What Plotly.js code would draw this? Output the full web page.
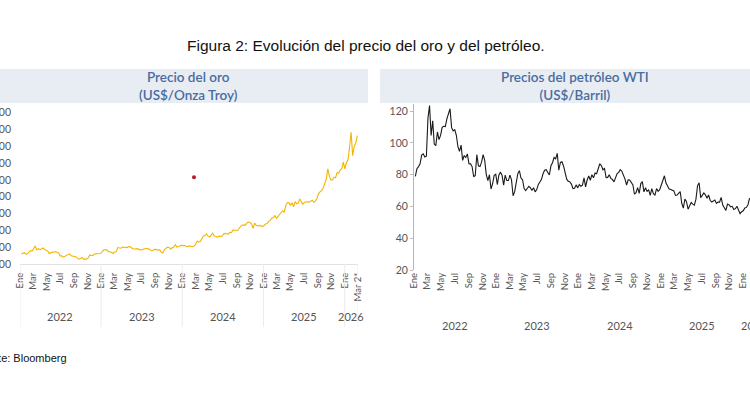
<!DOCTYPE html>
<html>
<head>
<meta charset="utf-8">
<script src="https://cdn.plot.ly/plotly-3.0.1.min.js"></script>
<style>
  html, body { margin: 0; padding: 0; background: #fff; }
  #plot { width: 750px; height: 410px; }
</style>
</head>
<body>
<div id="plot"></div>
<script>
// Gold price, US$/troy ounce, weekly (Fridays) from 2022-01-07
const goldPrice = [
  // 2022
  1797, 1817, 1835, 1791, 1807, 1859, 1898, 1889, 1966, 2040, 1921, 1958,
  1925, 1946, 1975, 1932, 1896, 1883, 1811, 1846, 1853, 1851, 1871, 1840, 1827,
  1742, 1742, 1703, 1727, 1766, 1775, 1802, 1747, 1737, 1712, 1716, 1675, 1644, 1660,
  1695, 1644, 1656, 1645, 1681, 1771, 1751, 1754, 1797, 1797, 1793, 1798, 1812,
  // 2023
  1865, 1920, 1926, 1928, 1865, 1865, 1842, 1811, 1855, 1867, 1989, 1978, 1969,
  2007, 2003, 1983, 1989, 2016, 2011, 1978, 1946, 1948, 1961, 1958, 1921, 1912,
  1925, 1955, 1962, 1959, 1943, 1913, 1889, 1915, 1940, 1919, 1924, 1925, 1848,
  1833, 1932, 1981, 2006, 1993, 1940, 1981, 2003, 2072, 2004, 2019, 2053, 2062,
  // 2024
  2045, 2049, 2029, 2018, 2039, 2024, 2013, 2035, 2083, 2179, 2155, 2165, 2230,
  2329, 2344, 2392, 2337, 2301, 2360, 2415, 2334, 2327, 2293, 2333, 2322, 2326,
  2392, 2411, 2400, 2387, 2443, 2431, 2507, 2512, 2503, 2497, 2578, 2622, 2658,
  2653, 2657, 2721, 2747, 2736, 2685, 2563, 2715, 2650, 2633, 2648, 2622, 2621,
  // 2025
  2640, 2690, 2703, 2771, 2798, 2861, 2883, 2936, 2858, 2910, 2984, 3023, 3085,
  3037, 3237, 3327, 3319, 3240, 3325, 3204, 3357, 3289, 3310, 3433, 3368, 3274,
  3337, 3355, 3350, 3337, 3363, 3398, 3336, 3371, 3448, 3586, 3643, 3685, 3760,
  3886, 4018, 4330, 4112, 4002, 4002, 4085, 4065, 4218, 4200, 4300, 4338, 4533,
  // 2026
  4330, 4510, 4600, 4980, 5420, 4720, 5000, 5100, 5320
];

// WTI crude, US$/barrel, weekly (Fridays) from 2022-01-07
const wtiPrice = [
  // 2022
  78.9, 83.8, 85.1, 86.8, 92.3, 93.1, 91.1, 91.6, 115.7, 123.5, 104.7, 113.9,
  99.3, 98.3, 106.9, 102.1, 104.7, 109.8, 110.5, 110.3, 115.1, 118.9, 121.5, 109.6, 107.6,
  108.4, 104.8, 97.6, 94.7, 98.6, 89.0, 92.1, 90.8, 93.1, 86.9, 86.8, 85.1, 78.7, 79.5,
  92.6, 85.6, 85.1, 87.9, 92.6, 89.0, 80.1, 76.3, 80.0, 71.0, 74.3, 79.6, 80.3,
  // 2023
  73.8, 79.9, 81.6, 79.7, 73.4, 79.7, 76.3, 76.3, 79.7, 76.7, 66.7, 69.3, 75.7,
  80.7, 82.5, 77.9, 76.8, 71.3, 70.0, 71.7, 72.7, 71.7, 70.2, 71.8, 69.2, 70.6,
  73.9, 75.4, 77.1, 80.6, 82.8, 83.2, 81.3, 79.8, 85.6, 87.5, 90.8, 90.0, 93.4,
  82.8, 87.7, 88.1, 85.5, 80.5, 77.2, 75.9, 75.5, 74.1, 71.2, 71.4, 73.6, 71.7,
  // 2024
  73.8, 72.7, 73.4, 78.0, 72.3, 76.8, 79.2, 76.5, 80.0, 78.0, 81.0, 80.6, 83.2,
  86.9, 85.7, 83.1, 83.9, 78.1, 78.3, 80.0, 77.7, 77.0, 75.5, 78.5, 80.7, 81.5,
  83.2, 82.2, 80.1, 77.2, 73.5, 76.8, 76.7, 74.8, 73.6, 67.7, 68.7, 71.9, 68.2,
  74.4, 75.6, 69.2, 71.8, 69.5, 70.4, 67.0, 71.2, 68.0, 67.2, 71.3, 69.5, 70.6,
  // 2025
  74.0, 76.6, 79.3, 74.7, 72.5, 71.0, 70.7, 70.4, 69.8, 67.0, 67.2, 68.3, 69.4,
  62.0, 59.0, 64.7, 63.0, 58.3, 61.0, 62.5, 61.5, 60.8, 64.6, 73.0, 74.9, 65.5,
  67.0, 68.5, 67.3, 65.2, 67.3, 63.9, 62.8, 63.7, 64.0, 61.9, 62.7, 62.7, 65.7,
  60.9, 58.9, 57.5, 61.5, 61.0, 59.8, 60.1, 58.1, 58.6, 60.1, 57.4, 55.5, 56.7,
  // 2026
  57.3, 59.1, 59.4, 61.1, 65.2
];

const monthNames = ["Ene", "Mar", "May", "Jul", "Sep", "Nov"];
const monthNums = ["01", "03", "05", "07", "09", "11"];
const years = [2022, 2023, 2024, 2025];
const yearLabels = ["2022", "2023", "2024", "2025", "2026"];
const goldTicks = [1500, 2000, 2500, 3000, 3500, 4000, 4500, 5000, 5500, 6000];
const wtiTicks = [20, 40, 60, 80, 100, 120];

// stray red dot on the gold panel
const dotDate = ["2024-02-23"];
const dotValue = [4080];

function weeklyDates(start, n) {
  const out = [];
  const d0 = new Date(start + "T00:00:00Z");
  for (let i = 0; i < n; i++) {
    const d = new Date(d0.getTime() + i * 7 * 86400000);
    out.push(d.toISOString().slice(0, 10));
  }
  return out;
}

const goldDates = weeklyDates("2022-01-07", goldPrice.length);
const wtiDates = weeklyDates("2022-01-07", wtiPrice.length);

// month ticks
const tickVals = [];
const tickText = [];
for (const y of years) {
  for (let m = 0; m < monthNums.length; m++) {
    tickVals.push(y + "-" + monthNums[m] + "-01");
    tickText.push(monthNames[m]);
  }
}
const goldTickVals = tickVals.concat(["2026-01-01", "2026-03-02"]);
const goldTickText = tickText.concat(["Ene", "Mar 2*"]);
const wtiTickVals = tickVals.concat(["2026-01-01"]);
const wtiTickText = tickText.concat(["Ene"]);

const W = 750, H = 410;
const px = (x) => x / W;
const py = (y) => 1 - y / H;

const traces = [
  {
    type: "scatter",
    mode: "lines",
    x: goldDates,
    y: goldPrice,
    xaxis: "x",
    yaxis: "y",
    line: { color: "#f4b400", width: 1.1 },
    hoverinfo: "skip"
  },
  {
    type: "scatter",
    mode: "markers",
    x: dotDate,
    y: dotValue,
    xaxis: "x",
    yaxis: "y",
    marker: { color: "#c0182a", size: 4 },
    hoverinfo: "skip"
  },
  {
    type: "scatter",
    mode: "lines",
    x: wtiDates,
    y: wtiPrice,
    xaxis: "x2",
    yaxis: "y2",
    line: { color: "#1a1a1a", width: 1.1 },
    hoverinfo: "skip"
  }
];

const tickFont = { family: "Lato, sans-serif", size: 9.5, color: "#555" };

const shapes = [
  {
    type: "rect", xref: "paper", yref: "paper",
    x0: -0.01, x1: px(368), y0: py(103), y1: py(69),
    fillcolor: "#e8edf4", line: { width: 0 }, layer: "below"
  },
  {
    type: "rect", xref: "paper", yref: "paper",
    x0: px(380), x1: 1.01, y0: py(103), y1: py(69),
    fillcolor: "#e8edf4", line: { width: 0 }, layer: "below"
  }
];

// faint year separators under the gold axis
const sepDates = ["2022-01-01", "2023-01-01", "2024-01-01", "2025-01-01", "2026-01-01", "2026-03-02"];
for (const d of sepDates) {
  shapes.push({
    type: "line", xref: "x", yref: "paper",
    x0: d, x1: d, y0: py(264), y1: py(327),
    line: { color: "#ececec", width: 1 }
  });
}

const yearFont = { family: "Lato, sans-serif", size: 11, color: "#555" };
const goldYearPos = ["2022-07-02", "2023-07-02", "2024-07-02", "2025-07-02", "2026-01-31"];
const wtiYearPos = ["2022-07-02", "2023-07-02", "2024-07-02", "2025-07-02", "2026-01-31"];

const titleFont = { family: "Lato, sans-serif", size: 13.5, color: "#4a6c9f", weight: 600 };

const annotations = [
  {
    xref: "paper", yref: "paper", x: px(366), y: py(46),
    xanchor: "center", yanchor: "middle",
    text: "Figura 2: Evolución del precio del oro y del petróleo.",
    showarrow: false,
    font: { family: "Liberation Sans, Arial, sans-serif", size: 15.5, color: "#111" }
  },
  {
    xref: "paper", yref: "paper", x: px(188), y: py(86),
    xanchor: "center", yanchor: "middle",
    text: "Precio del oro<br>(US$/Onza Troy)",
    showarrow: false,
    font: titleFont
  },
  {
    xref: "paper", yref: "paper", x: px(575), y: py(86),
    xanchor: "center", yanchor: "middle",
    text: "Precios del petróleo WTI<br>(US$/Barril)",
    showarrow: false,
    font: titleFont
  },
  {
    xref: "paper", yref: "paper", x: px(-29), y: py(358),
    xanchor: "left", yanchor: "middle",
    text: "Fuente: Bloomberg",
    showarrow: false,
    font: { family: "Liberation Sans, Arial, sans-serif", size: 11, color: "#111" }
  }
];

yearLabels.forEach((t, i) => {
  annotations.push({
    xref: "x", yref: "paper", x: goldYearPos[i], y: py(316),
    yanchor: "middle",
    text: t, showarrow: false, font: yearFont
  });
  annotations.push({
    xref: "x2", yref: "paper", x: wtiYearPos[i], y: py(325),
    yanchor: "middle",
    xshift: i === 4 ? 4 : 0,
    text: t, showarrow: false, font: yearFont
  });
});

const layout = {
  width: W,
  height: H,
  margin: { l: 0, r: 0, t: 0, b: 0 },
  paper_bgcolor: "#fff",
  plot_bgcolor: "#fff",
  showlegend: false,
  font: { family: "Lato, sans-serif", color: "#555" },
  xaxis: {
    type: "date",
    domain: [px(20), px(358)],
    range: ["2022-01-01", "2026-03-02"],
    anchor: "y",
    tickmode: "array",
    tickvals: goldTickVals,
    ticktext: goldTickText,
    tickangle: -90,
    tickfont: tickFont,
    ticks: "outside",
    ticklen: 4,
    tickcolor: "rgba(0,0,0,0)",
    showline: true,
    linecolor: "#e2e2e2",
    showgrid: false,
    zeroline: false
  },
  yaxis: {
    domain: [py(264), py(106)],
    range: [1500, 6200],
    anchor: "x",
    tickmode: "array",
    tickvals: goldTicks,
    tickformat: ",d",
    tickfont: { family: "Lato, sans-serif", size: 10.5, color: "#555" },
    ticks: "",
    ticklabelstandoff: 8,
    showline: false,
    showgrid: false,
    zeroline: false
  },
  xaxis2: {
    type: "date",
    domain: [px(414), 1],
    range: ["2022-01-01", "2026-02-01"],
    anchor: "y2",
    tickmode: "array",
    tickvals: wtiTickVals,
    ticktext: wtiTickText,
    tickangle: -90,
    tickfont: tickFont,
    ticks: "",
    showline: false,
    showgrid: false,
    zeroline: false
  },
  yaxis2: {
    domain: [py(270), py(104)],
    range: [20, 124.5],
    anchor: "x2",
    tickmode: "array",
    tickvals: wtiTicks,
    tickfont: { family: "Lato, sans-serif", size: 10.5, color: "#555" },
    ticks: "outside",
    ticklen: 3,
    tickcolor: "#bbb",
    showline: true,
    linecolor: "#b5b5b5",
    showgrid: false,
    zeroline: false
  },
  shapes: shapes,
  annotations: annotations
};

Plotly.newPlot("plot", traces, layout, { displayModeBar: false, staticPlot: true });
</script>
</body>
</html>
